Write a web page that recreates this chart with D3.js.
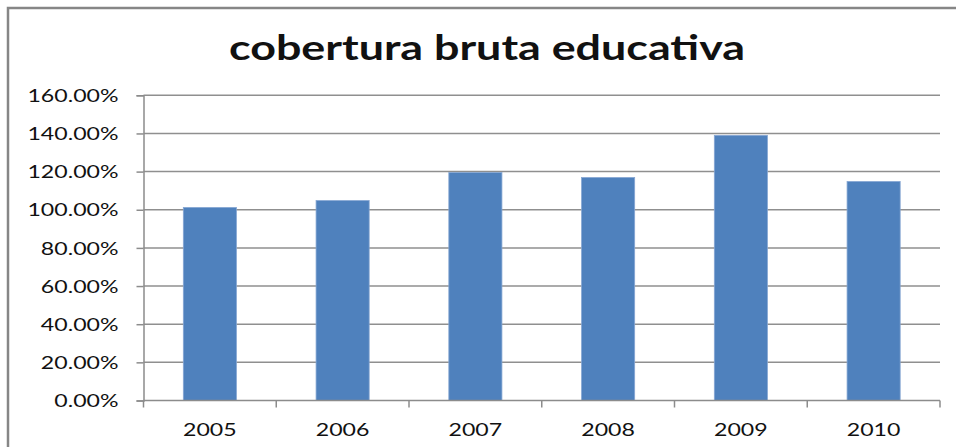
<!DOCTYPE html>
<meta charset="utf-8">
<style>
body { margin: 0; background: #fff; }
text { font-family: Lato, "Open Sans", sans-serif; fill: #111; }
.axis path, .axis line { fill: none; stroke: #8c8c8c; stroke-width: 1.5px; }
.grid line { stroke: #8f8f8f; stroke-width: 1.5px; }
</style>
<body>
<script src="https://d3js.org/d3.v7.min.js"></script>
<script>

var years = ["2005", "2006", "2007", "2008", "2009", "2010"];
var cobertura = [1.012, 1.048, 1.195, 1.169, 1.390, 1.148];
var yTicks = [0, 0.2, 0.4, 0.6, 0.8, 1.0, 1.2, 1.4, 1.6];
var title = "cobertura bruta educativa";

var W = 956, H = 447;
var margin = {top: 95.3, right: 16, bottom: 46.5, left: 143.5},
    width = W - margin.left - margin.right,
    height = H - margin.top - margin.bottom;

var svg = d3.select("body").append("svg")
    .attr("width", W)
    .attr("height", H);

// outer chart border (runs off the right and bottom edge)
svg.append("rect")
    .attr("x", 8).attr("y", 8)
    .attr("width", W).attr("height", H)
    .attr("fill", "none")
    .attr("stroke", "#868686")
    .attr("stroke-width", 2.5);

var x = d3.scaleBand()
    .domain(years)
    .range([0, width])
    .paddingInner(0.6)
    .paddingOuter(0.3);

var y = d3.scaleLinear()
    .domain([0, 1.6])
    .range([height, 0]);

var g = svg.append("g")
    .attr("transform", "translate(" + margin.left + "," + margin.top + ")");

// gridlines
g.append("g")
    .attr("class", "grid")
  .selectAll("line")
    .data(yTicks.slice(1))
  .enter().append("line")
    .attr("x1", 0).attr("x2", width)
    .attr("y1", function(d) { return y(d); })
    .attr("y2", function(d) { return y(d); });

g.selectAll(".bar")
    .data(years)
  .enter().append("rect")
    .attr("class", "bar")
    .attr("x", function(d) { return x(d); })
    .attr("width", x.bandwidth())
    .attr("y", function(d, i) { return y(cobertura[i]); })
    .attr("height", function(d, i) { return height - y(cobertura[i]); })
    .attr("fill", "#4F81BD")
    .attr("stroke", "#86A6D3")
    .attr("stroke-width", 0.8);

var yAxis = d3.axisLeft(y)
    .tickValues(yTicks)
    .tickFormat(d3.format(".2%"))
    .tickSize(7)
    .tickPadding(18);

g.append("g")
    .attr("class", "y axis")
    .call(yAxis)
    .selectAll("text")
    .style("font-size", "17px")
    .attr("dy", "0.36em");

// category axis: ticks between categories, Excel style
var xAxis = d3.axisBottom(x).tickSize(0).tickPadding(23);

var xg = g.append("g")
    .attr("class", "x axis")
    .attr("transform", "translate(0," + height + ")")
    .call(xAxis);
xg.select(".domain").attr("d", "M0,0H" + width);
xg.selectAll("text").style("font-size", "17px");

var step = x.step();
xg.selectAll(".divider")
    .data(d3.range(years.length + 1))
  .enter().append("line")
    .attr("x1", function(i) { return i * step; })
    .attr("x2", function(i) { return i * step; })
    .attr("y1", 0).attr("y2", 7);

// text in the source is stretched horizontally
svg.selectAll(".axis text").each(function() {
  var len = this.getComputedTextLength();
  d3.select(this)
      .attr("textLength", len * 1.36)
      .attr("lengthAdjust", "spacingAndGlyphs");
});

var t = svg.append("text")
    .attr("x", 487)
    .attr("y", 60)
    .attr("text-anchor", "middle")
    .style("font-size", "35px")
    .style("font-weight", "bold")
    .text(title);
t.attr("textLength", 516).attr("lengthAdjust", "spacingAndGlyphs");

</script>
</body>
</html>
